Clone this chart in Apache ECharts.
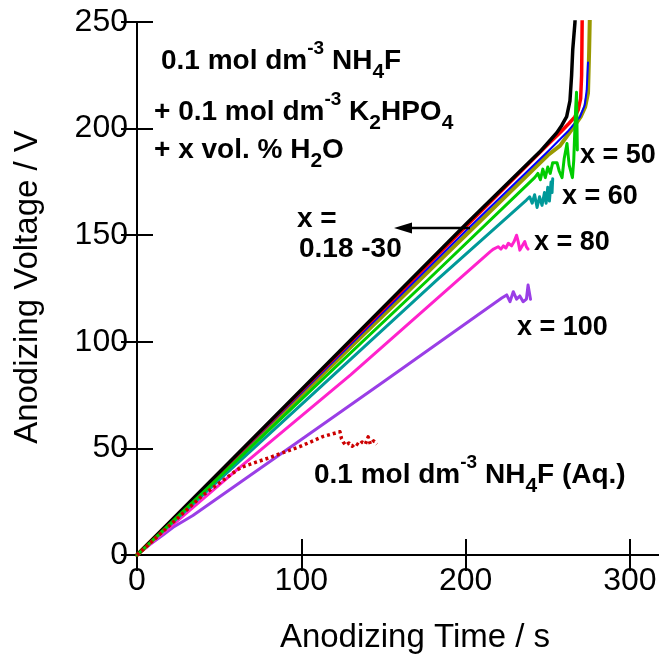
<!DOCTYPE html>
<html>
<head>
<meta charset="utf-8">
<script src="https://cdn.jsdelivr.net/npm/echarts@6/dist/echarts.min.js"></script>
<style>
  html, body { margin: 0; padding: 0; background: #fff; }
  #chart { width: 659px; height: 655px; }
</style>
</head>
<body>
<div id="chart"></div>
<script>
// Anodizing voltage-time transients, [time / s, voltage / V]
const x018to30_black = [[0,0],[20,15.5],[100,77.5],[200,155],[245,189],[252,195],[255.4,198],[258.5,201.5],[261.5,205.6],[263.5,213],[264.5,225],[265.2,237],[266.5,249.4],[267,256]];
const x018to30_red = [[0,0],[20,15.4],[100,77],[200,154],[250,192.5],[258,198.5],[263,202.5],[266.5,205.5],[268.5,208.7],[270,214],[270.6,225],[270.8,240],[271,256]];
const x018to30_blue = [[0,0],[20,15.2],[100,76],[200,152],[251,190],[262,198.5],[269.6,205.5],[272.5,211],[273.7,218],[274.5,231]];
const x018to30_olive = [[0,0],[20,15],[100,75],[200,150],[250,187.5],[257.5,192],[265.5,200.5],[270,205.5],[272.7,210],[274.5,216.6],[275.2,237],[275.7,256]];
const x50 = [[0,0],[20,14.6],[100,73],[177,129],[242,177],[244,179],[245.5,176],[247,181],[248.5,177],[250,182],[251.5,179],[253,184],[255.6,184],[257,180],[258.7,177],[260,186],[261.7,193],[263,183],[265,177],[265.8,185],[266.5,200],[267,210],[267.5,217],[268,190]];
const x60 = [[0,0],[20,14],[100,70.5],[182.6,129],[237,166.5],[239,168],[240.5,165],[242,169],[243.5,163],[245,168],[246.5,164],[248,170],[249,165],[250,172.5],[251,166],[252,175],[252.6,170],[253,176.5]];
const x80 = [[0,0],[20,13],[60,39.5],[130,84.5],[215,142.3],[217,143.5],[219.8,144.6],[221.5,143.5],[223,145],[224.5,144],[226,146.2],[228,145],[229.5,147],[231,150],[232,147],[233,143],[234.5,145],[236,147],[237,144.5],[238,143.5]];
const x100 = [[0,0],[8,5],[16,9.5],[22,13],[34,18.5],[97,52.5],[152,82.3],[222,120.5],[225,122],[227,118.8],[229,123.5],[231,120],[233,121.5],[235,118.8],[237,120],[238,126.6],[239.5,120]];
const nh4fAq = [[0,0],[10,7],[20,14],[40,28],[55,36.5],[63,41],[80,45.5],[99,50.8],[113,55.5],[123.5,57.8],[124.5,54.5],[125.5,53],[127,51.5],[129,52.5],[131,51],[133,52.5],[135,51.5],[137,53],[139,52],[140.7,55.4],[142,52],[144,53.5],[146,52]];

const xTicks = { min: 0, max: 325, step: 100 };
const yTicks = { min: 0, max: 250, step: 50 };

const chart = echarts.init(document.getElementById('chart'), null, { renderer: 'canvas' });

const labelFont = 'Liberation Sans, Arial, sans-serif';
const boldText = { fontFamily: labelFont, fontWeight: 'bold', fontSize: 28, color: '#000', lineHeight: 44, verticalAlign: 'middle' };
const supText = { fontFamily: labelFont, fontWeight: 'bold', fontSize: 19, color: '#000', lineHeight: 12, verticalAlign: 'top' };
const subText = { fontFamily: labelFont, fontWeight: 'bold', fontSize: 21, color: '#000', lineHeight: 26, verticalAlign: 'bottom' };
const richSet = { n: boldText, sup: supText, sub: subText };

function richLabel(left, top, text, size) {
  const rich = size ? { n: Object.assign({}, boldText, { fontSize: size }), sup: supText, sub: subText } : richSet;
  return {
    type: 'text', left: left, top: top, z: 100,
    style: { text: text, rich: rich }
  };
}

function lineSeries(name, data, color, width, type) {
  return {
    name: name, type: 'line', data: data, showSymbol: false, symbol: 'none',
    xAxisIndex: 0, yAxisIndex: 0,
    lineStyle: { color: color, width: width, type: type || 'solid', join: 'round', cap: type ? 'butt' : 'round' },
    z: 5
  };
}

const axisLineStyle = { lineStyle: { color: '#000', width: 2 } };
const tickStyle = { show: true, inside: true, length: 16, lineStyle: { color: '#000', width: 2 } };
const hundreds = v => (v % 100 === 0 ? String(v) : '');

const option = {
  animation: false,
  backgroundColor: '#fff',
  grid: { left: 137, top: 22, width: 534, height: 533, containLabel: false, outerBoundsMode: 'none' },
  xAxis: [
    {
      type: 'value', position: 'bottom', min: xTicks.min, max: xTicks.max, interval: xTicks.step,
      axisLine: axisLineStyle, axisTick: tickStyle, splitLine: { show: false },
      axisLabel: { fontFamily: labelFont, fontSize: 32, color: '#000', margin: 10, formatter: hundreds }
    },
    {
      type: 'value', position: 'top', min: xTicks.min, max: xTicks.max, interval: xTicks.step,
      axisLine: axisLineStyle, axisTick: tickStyle, splitLine: { show: false },
      axisLabel: { show: false }
    }
  ],
  yAxis: [
    {
      type: 'value', position: 'left', min: yTicks.min, max: yTicks.max, interval: yTicks.step,
      axisLine: axisLineStyle, axisTick: tickStyle, splitLine: { show: false },
      axisLabel: { fontFamily: labelFont, fontSize: 32, color: '#000', margin: 9 }
    },
    {
      type: 'value', position: 'right', min: yTicks.min, max: yTicks.max, interval: yTicks.step,
      axisLine: axisLineStyle, axisTick: tickStyle, splitLine: { show: false },
      axisLabel: { show: false }
    }
  ],
  series: [
    lineSeries('x = 100', x100, '#9a3ee6', 3),
    lineSeries('x = 80', x80, '#ff22cc', 3),
    lineSeries('x = 60', x60, '#009999', 3),
    lineSeries('olive', x018to30_olive, '#999900', 4),
    lineSeries('blue', x018to30_blue, '#0000ff', 2),
    lineSeries('red', x018to30_red, '#ff0000', 3.5),
    lineSeries('black', x018to30_black, '#000000', 3.5),
    lineSeries('x = 50', x50, '#00cc00', 3),
    lineSeries('0.1 mol dm-3 NH4F (Aq.)', nh4fAq, '#cc0000', 3.5, [3, 3])
  ],
  graphic: [
    // axis titles
    {
      type: 'text', x: 415, y: 638, z: 100,
      style: { text: 'Anodizing Time / s', font: '33px ' + labelFont, fill: '#000', textAlign: 'center', textVerticalAlign: 'middle' }
    },
    {
      type: 'text', x: 28, y: 287, rotation: Math.PI / 2, z: 100,
      style: { text: 'Anodizing Voltage / V', font: '33px ' + labelFont, fill: '#000', textAlign: 'center', textVerticalAlign: 'middle' }
    },
    // electrolyte composition
    richLabel(161, 39, '{n|0.1 mol dm}{sup|-3}{n| NH}{sub|4}{n|F}'),
    richLabel(154, 90, '{n|+ 0.1 mol dm}{sup|-3}{n| K}{sub|2}{n|HPO}{sub|4}'),
    richLabel(154, 136, '{n|+ x vol. % H}{sub|2}{n|O}'),
    richLabel(314, 453, '{n|0.1 mol dm}{sup|-3}{n| NH}{sub|4}{n|F (Aq.)}'),
    // curve labels
    richLabel(580, 142, '{n|x = 50}', 27),
    richLabel(562, 183, '{n|x = 60}', 27),
    richLabel(534, 229, '{n|x = 80}', 27),
    richLabel(517, 314, '{n|x = 100}', 27),
    richLabel(297, 205, '{n|x =}'),
    richLabel(299, 235, '{n|0.18 -30}'),
    // arrow pointing to the 0.18-30 group
    {
      type: 'line', z: 100,
      shape: { x1: 470, y1: 228, x2: 408, y2: 228 },
      style: { stroke: '#000', lineWidth: 2.5 }
    },
    {
      type: 'polygon', z: 100,
      shape: { points: [[394, 228], [412, 222.5], [412, 233.5]] },
      style: { fill: '#000' }
    }
  ]
};

chart.setOption(option);
</script>
</body>
</html>
